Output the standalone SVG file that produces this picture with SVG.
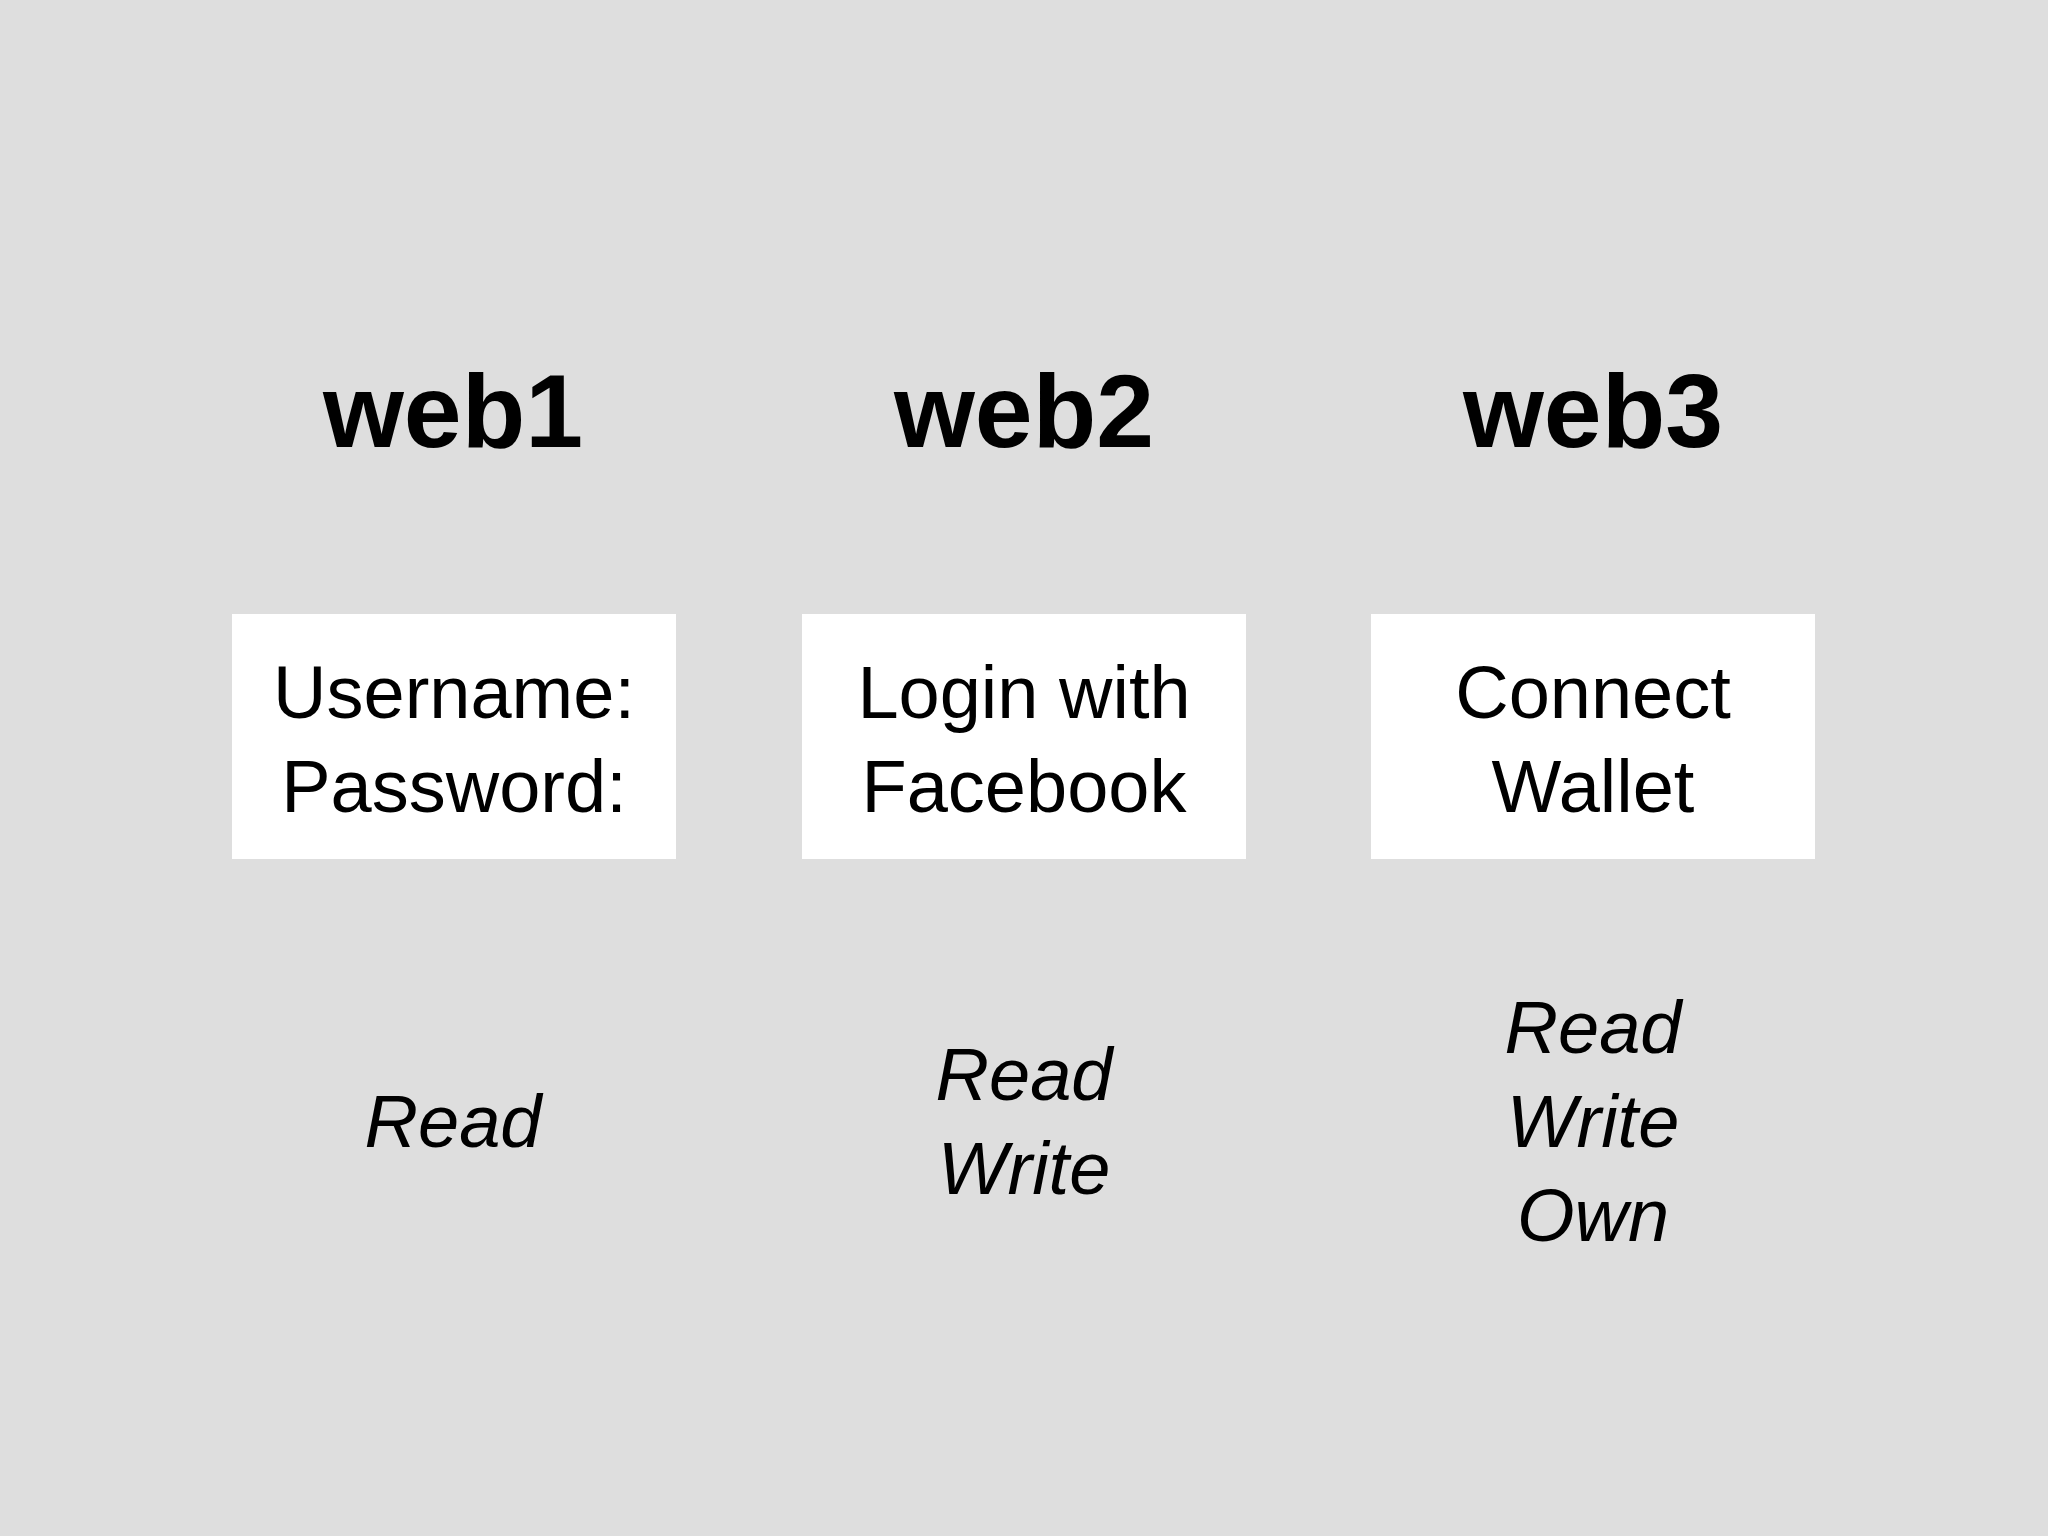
<svg xmlns="http://www.w3.org/2000/svg" width="2048" height="1536" viewBox="0 0 2048 1536">
<style>
.h{font-family:"Liberation Sans",Arial,sans-serif;font-weight:bold;font-size:104px;fill:#000;text-anchor:middle}
.b{font-family:"Liberation Sans",Arial,sans-serif;font-size:74px;fill:#000;text-anchor:middle}
.i{font-family:"Liberation Sans",Arial,sans-serif;font-style:italic;font-size:74px;fill:#000;text-anchor:middle}
.box{fill:#fff}
</style>
<rect width="2048" height="1536" fill="#dedede"/>
<g id="web1">
<text class="h" x="453" y="447">web1</text>
<rect class="box" x="232" y="614" width="444" height="245"/>
<text class="b" x="454" y="718">Username:</text>
<text class="b" x="454" y="812">Password:</text>
<text class="i" x="453" y="1147">Read</text>
</g>
<g id="web2">
<text class="h" x="1024" y="447">web2</text>
<rect class="box" x="802" y="614" width="444" height="245"/>
<text class="b" x="1024" y="718">Login with</text>
<text class="b" x="1024" y="812">Facebook</text>
<text class="i" x="1024" y="1100">Read</text>
<text class="i" x="1024" y="1194">Write</text>
</g>
<g id="web3">
<text class="h" x="1593" y="447">web3</text>
<rect class="box" x="1371" y="614" width="444" height="245"/>
<text class="b" x="1593" y="718">Connect</text>
<text class="b" x="1593" y="812">Wallet</text>
<text class="i" x="1593" y="1053">Read</text>
<text class="i" x="1593" y="1147">Write</text>
<text class="i" x="1593" y="1241">Own</text>
</g>
<g id="connectors"/>
</svg>
